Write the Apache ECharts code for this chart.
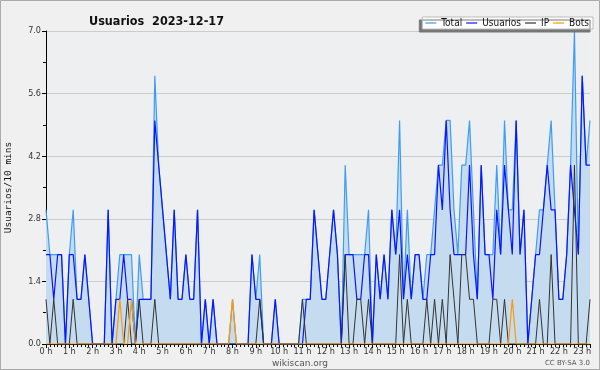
<!DOCTYPE html>
<html><head><meta charset="utf-8">
<script src="https://cdn.jsdelivr.net/npm/echarts@6/dist/echarts.min.js"></script>
<style>html,body{margin:0;padding:0;background:#f0f0f0}#c{width:600px;height:370px}</style>
</head><body><div id="c"></div>
<script>
var titleText = 'Usuarios  2023-12-17';
var seriesNames = ['Total', 'Usuarios', 'IP', 'Bots'];
var yTicks = [0.0, 1.4, 2.8, 4.2, 5.6, 7.0];
var usuarios = [2,2,1,2,2,0,2,2,1,1,2,1,0,0,0,0,3,0,1,1,2,1,1,0,1,1,1,1,5,4,3,2,1,3,1,1,2,1,1,3,0,1,0,1,0,0,0,0,0,0,0,0,0,2,1,1,0,0,0,1,0,0,0,0,0,0,0,1,1,3,2,1,1,2,3,2,0,2,2,2,1,1,2,2,0,2,1,2,1,3,2,3,1,2,1,2,2,1,1,2,2,4,3,5,3,2,2,2,2,4,2,1,4,2,2,1,3,2,4,3,2,5,2,3,0,1,2,2,3,4,3,3,1,1,2,4,3,2,6,4,4];
var ip =       [1,0,1,0,0,0,0,1,0,0,0,0,0,0,0,0,0,0,0,0,0,1,0,0,1,0,0,0,1,0,0,0,0,0,0,0,0,0,0,0,0,0,0,0,0,0,0,0,0,0,0,0,0,0,0,1,0,0,0,0,0,0,0,0,0,0,1,0,0,0,0,0,0,0,0,0,0,2,0,0,1,1,0,1,0,0,0,0,0,0,0,2,0,1,0,0,0,0,1,0,1,0,1,0,2,1,0,2,2,1,1,0,0,0,0,1,1,0,1,0,0,0,0,0,0,0,0,1,0,0,2,0,0,0,0,0,4,0,0,0,1];
var bots =     [0,0,0,0,0,0,0,0,0,0,0,0,0,0,0,0,0,0,0,1,0,0,1,0,0,0,0,0,0,0,0,0,0,0,0,0,0,0,0,0,0,0,0,0,0,0,0,0,1,0,0,0,0,0,0,0,0,0,0,0,0,0,0,0,0,0,0,0,0,0,0,0,0,0,0,0,0,0,0,0,0,0,0,0,0,0,0,0,0,0,0,0,0,0,0,0,0,0,0,0,0,0,0,0,0,0,0,0,0,0,0,0,0,0,0,0,0,0,0,0,1,0,0,0,0,0,0,0,0,0,0,0,0,0,0,0,0,0,0,0,0];
var total =    [3,2,2,2,2,0,2,3,1,1,2,1,0,0,0,0,3,0,1,2,2,2,2,0,2,1,1,1,6,4,3,2,1,3,1,1,2,1,1,3,0,1,0,1,0,0,0,0,1,0,0,0,0,2,1,2,0,0,0,1,0,0,0,0,0,0,1,1,1,3,2,1,1,2,3,2,0,4,2,2,2,2,2,3,0,2,1,2,1,3,2,5,1,3,1,2,2,1,2,2,3,4,4,5,5,3,2,4,4,5,3,1,4,2,2,2,4,2,5,3,3,5,2,3,0,1,2,3,3,4,5,3,1,1,2,4,7,2,6,4,5];

function pts(arr){ return arr.map(function(v,i){ return [i, v]; }); }
var chart = echarts.init(document.getElementById('c'), null, {renderer:'canvas'});
chart.setOption({
  animation: false,
  backgroundColor: '#f0f0f0',
  title: { text: titleText, left: 84, top: 10, textStyle: { fontFamily: 'DejaVu Sans Condensed', fontSize: 12.5, fontWeight: 'bold', color: '#111' } },
  legend: {
    data: seriesNames, right: 7, top: 17, icon: 'rect', itemWidth: 11, itemHeight: 1.2, itemGap: 4,
    backgroundColor: '#fff', borderColor: '#bbb', borderWidth: 1, padding: [1,4,1,3],
    shadowColor: '#777', shadowOffsetX: -3, shadowOffsetY: 3, shadowBlur: 0,
    textStyle: { fontFamily: 'DejaVu Sans Condensed', fontSize: 10, color: '#111', padding: [1,0,0,0] }
  },
  grid: { left: 46, right: 10, top: 31, bottom: 26, show: true, backgroundColor: '#eeeff1', borderWidth: 0, containLabel: false, outerBoundsMode: 'none' },
  xAxis: {
    type: 'value', min: 0, max: total.length - 1, interval: 6,
    axisLine: { onZero: false, lineStyle: { color: '#000', width: 1 } },
    axisTick: { show: true, length: 4, lineStyle: { color: '#000' } },
    minorTick: { show: true, splitNumber: 6, length: 3, lineStyle: { color: '#000' } },
    splitLine: { show: false },
    axisLabel: { fontFamily: 'DejaVu Sans Condensed', fontSize: 9, color: '#333', margin: 3, formatter: function(v){ return (v/6) + ' h'; } }
  },
  yAxis: {
    type: 'value', min: yTicks[0], max: yTicks[yTicks.length-1], interval: 1.4,
    name: 'Usuarios/10 mins', nameLocation: 'middle', nameGap: 32, nameRotate: 90,
    nameTextStyle: { fontFamily: 'DejaVu Sans Mono', fontSize: 9.5, color: '#111' },
    axisLine: { show: true, lineStyle: { color: '#000' } },
    axisTick: { show: true, length: 4, lineStyle: { color: '#000' } },
    minorTick: { show: true, splitNumber: 2, length: 3, lineStyle: { color: '#000' } },
    splitLine: { show: true, lineStyle: { color: '#cccccc', width: 1 } },
    axisLabel: { fontFamily: 'DejaVu Sans Condensed', fontSize: 9, color: '#333', margin: 5, formatter: function(v){ return v.toFixed(1); } }
  },
  graphic: [
    { type: 'rect', shape: { x: 0.5, y: 0.5, width: 599, height: 369 }, style: { fill: 'none', stroke: '#aaa', lineWidth: 1 }, silent: true },
    { type: 'text', left: 'center', bottom: 2, style: { text: 'wikiscan.org', font: '9px DejaVu Sans', fill: '#555' } },
    { type: 'text', right: 10, bottom: 3, style: { text: 'CC BY-SA 3.0', font: '7px DejaVu Sans', fill: '#555' } }
  ],
  series: [
    { name: 'Total', type: 'line', symbol: 'none', data: pts(total), lineStyle: { color: '#3d9cf5', width: 1.2 }, itemStyle: { color: '#3d9cf5' }, areaStyle: { color: '#c5dcf0', opacity: 1 }, z: 2 },
    { name: 'Usuarios', type: 'line', symbol: 'none', data: pts(usuarios), lineStyle: { color: '#0a14ff', width: 1.2 }, itemStyle: { color: '#0a14ff' }, z: 3 },
    { name: 'IP', type: 'line', symbol: 'none', data: pts(ip), lineStyle: { color: '#333', width: 1 }, itemStyle: { color: '#333' }, z: 4 },
    { name: 'Bots', type: 'line', symbol: 'none', data: pts(bots), lineStyle: { color: '#ff9900', width: 1.2 }, itemStyle: { color: '#ff9900' }, z: 5 }
  ]
});
</script></body></html>
